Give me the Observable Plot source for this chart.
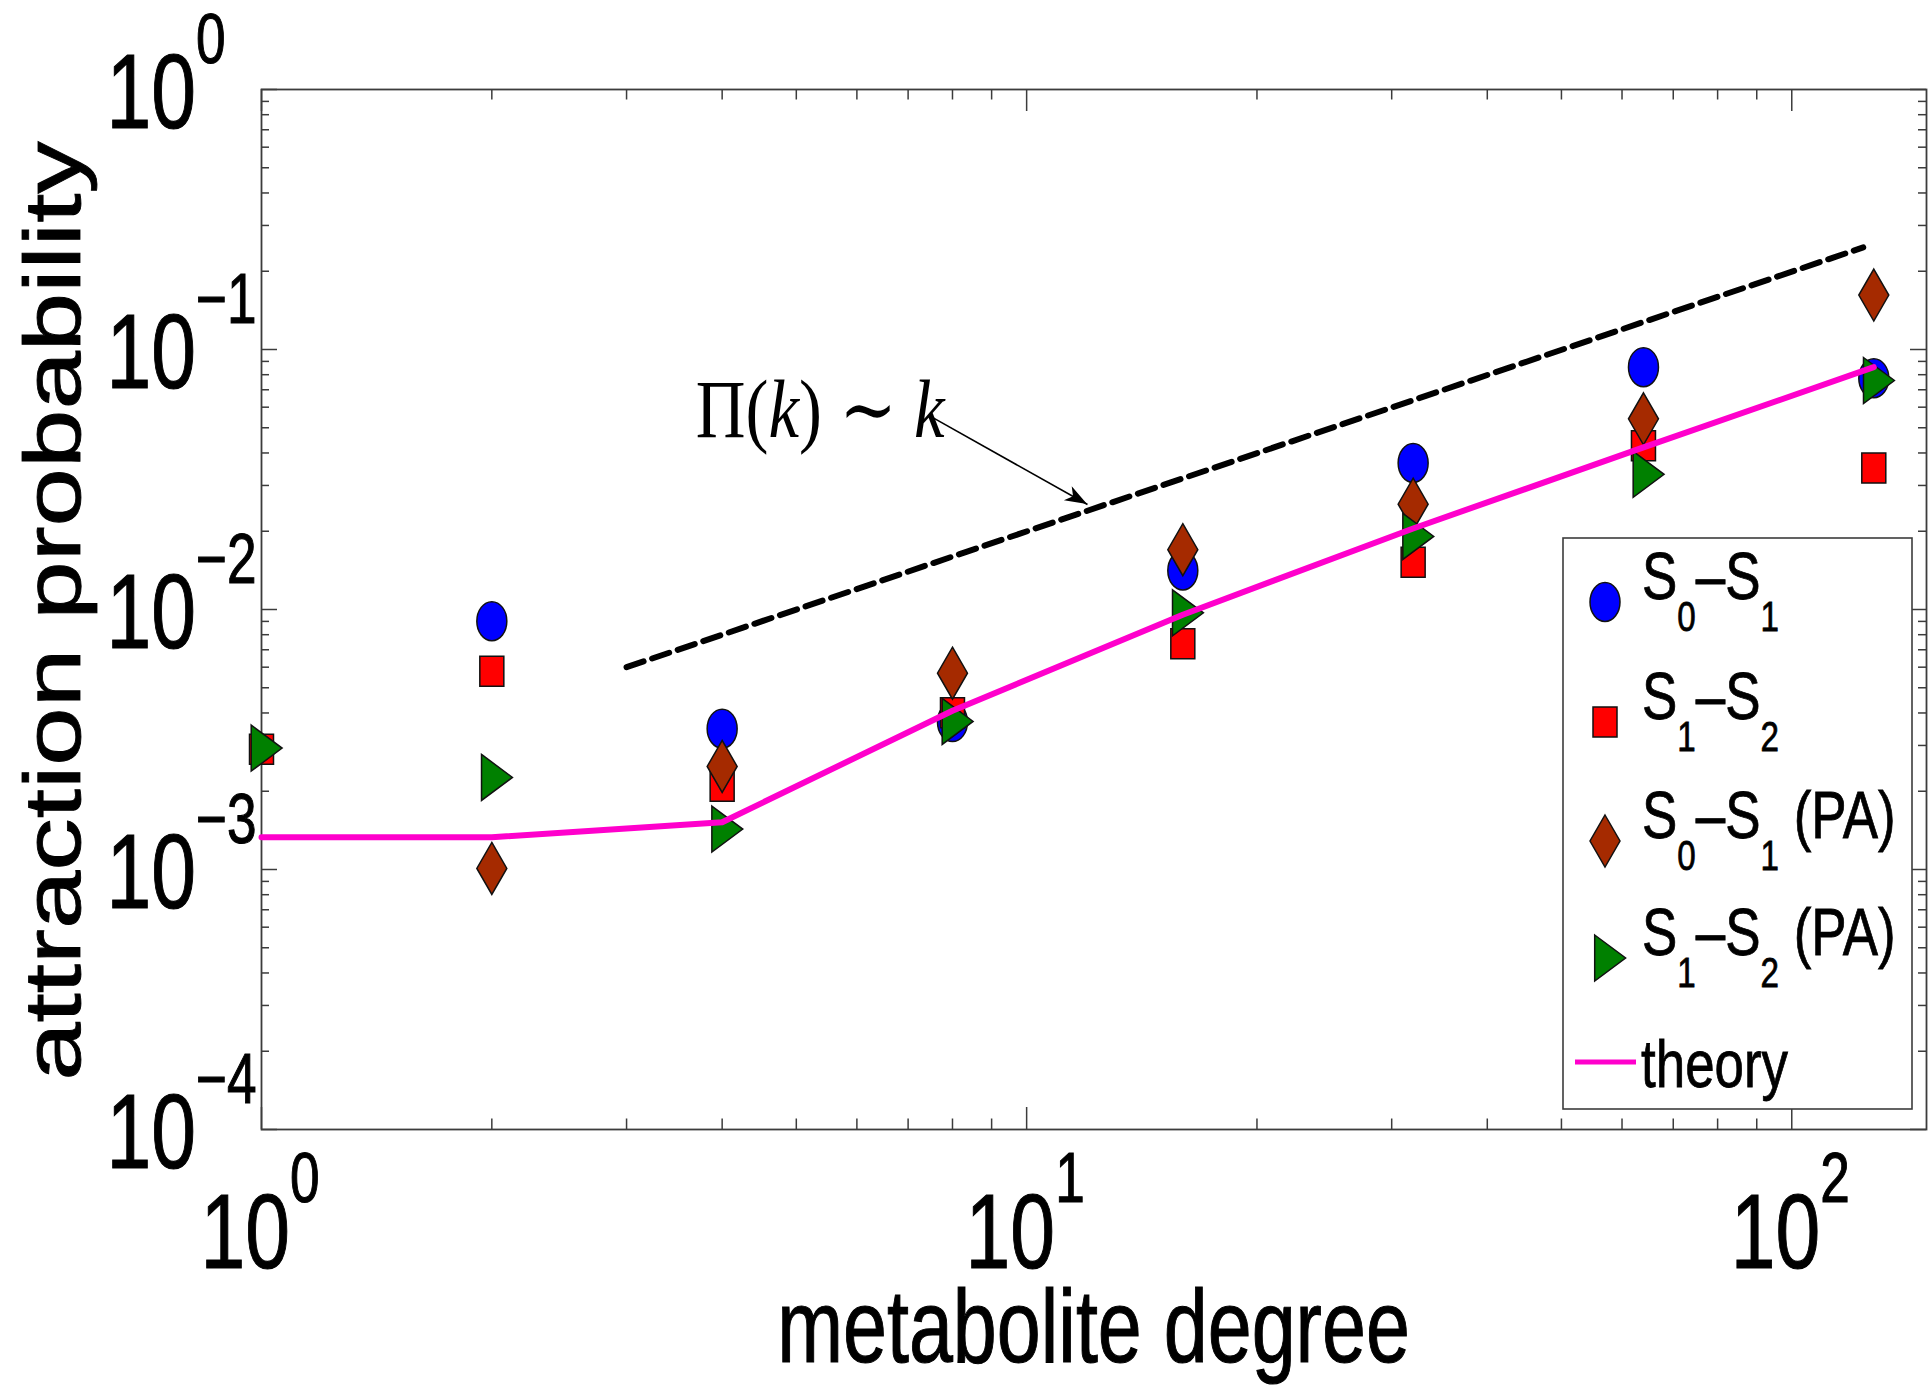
<!DOCTYPE html>
<html>
<head>
<meta charset="utf-8">
<script src="https://cdn.jsdelivr.net/npm/d3@7"></script>
<script src="https://cdn.jsdelivr.net/npm/@observablehq/plot@0.6"></script>
<style>
  html, body { margin: 0; padding: 0; background: #fff; }
  svg { display: block; }
</style>
</head>
<body>
<div id="chart"></div>
<script>
// ---------------- data ----------------
const degree   = [1, 2, 4, 8, 16, 32, 64, 128];
const s0s1     = [null, 0.00902, 0.00348, 0.00369, 0.01413, 0.0366, 0.0855, 0.0776];
const s1s2     = [0.0029, 0.00579, 0.00209, 0.00401, 0.00738, 0.0152, 0.0426, 0.035];
const s0s1PA   = [null, 0.00101, 0.00249, 0.00569, 0.01698, 0.0254, 0.0541, 0.162];
const s1s2PA   = [0.00293, 0.00226, 0.00143, 0.00371, 0.00971, 0.0191, 0.0331, 0.076];
const theory   = [0.00133, 0.00133, 0.00152, 0.00408, 0.00955, 0.0205, 0.042, 0.0855];

// guide line  Π(k) ~ k
const guideK = [3, 124];
const guideP = [0.006, 0.247];

// annotation text anchor and arrow (data units)
const annotK = [3.7];
const annotP = [0.0459];
const arrowFromK = [7.53],  arrowFromP = [0.0548];
const arrowToK   = [12.01], arrowToP   = [0.02535];

// axes
const xDomain = [1, 150];
const yDomain = [1e-4, 1];
const xTickValues = [1, 10, 100];
const xTickExp    = ["0", "1", "2"];
const yTickValues = [1e-4, 1e-3, 1e-2, 1e-1, 1];
const yTickExp    = ["\u22124", "\u22123", "\u22122", "\u22121", "0"];
const xMinorBase  = [1, 10];
const yMinorBase  = [1e-4, 1e-3, 1e-2, 1e-1];
const mantissas   = [2, 3, 4, 5, 6, 7, 8, 9];

const xLabel = "metabolite degree";
const yLabel = "attraction probability";
const seriesNames = ["S0–S1", "S1–S2", "S0–S1 (PA)", "S1–S2 (PA)", "theory"];

// ---------------- layout ----------------
const W = 1928, H = 1385;
const mL = 261, mR = 2, mT = 89, mB = 256;
const innerW = W - mL - mR, innerH = H - mT - mB;
const axisColor = "#3c3c3c";
const FONT = "'Liberation Sans', Arial, Helvetica, sans-serif";
const SX = 0.76;   // horizontal condensation of text in the reference
const SXL = 0.79;  // legend text condensation

// ---------------- custom marker symbols ----------------
const K = 0.5523;
const ellipseSym = {draw(c) {
  const rx = 15, ry = 19.5;
  c.moveTo(rx, 0);
  c.bezierCurveTo(rx, ry * K, rx * K, ry, 0, ry);
  c.bezierCurveTo(-rx * K, ry, -rx, ry * K, -rx, 0);
  c.bezierCurveTo(-rx, -ry * K, -rx * K, -ry, 0, -ry);
  c.bezierCurveTo(rx * K, -ry, rx, -ry * K, rx, 0);
  c.closePath();
}};
const squareSym = {draw(c) {
  c.moveTo(-12, -15); c.lineTo(12, -15); c.lineTo(12, 15); c.lineTo(-12, 15); c.closePath();
}};
const diamondSym = {draw(c) {
  c.moveTo(0, -26); c.lineTo(15, 0); c.lineTo(0, 26); c.lineTo(-15, 0); c.closePath();
}};
const triangleSym = {draw(c) {
  c.moveTo(-10.3, -23); c.lineTo(20.6, 0); c.lineTo(-10.3, 23); c.closePath();
}};

const series = [
  {name: seriesNames[0], values: s0s1,   sym: ellipseSym,  fill: "#0000ff"},
  {name: seriesNames[1], values: s1s2,   sym: squareSym,   fill: "#ff0000"},
  {name: seriesNames[2], values: s0s1PA, sym: diamondSym,  fill: "#a52a00"},
  {name: seriesNames[3], values: s1s2PA, sym: triangleSym, fill: "#008000"}
];
const theoryColor = "#ff00cc";

const rows = s => degree.map((k, i) => ({k, v: s.values[i]})).filter(d => d.v != null);
const theoryRows = degree.map((k, i) => ({k, v: theory[i]}));
const guideRows = guideK.map((k, i) => ({k, v: guideP[i]}));
const arrowRows = [{x1: arrowFromK[0], y1: arrowFromP[0], x2: arrowToK[0], y2: arrowToP[0]}];

const xMinor = xMinorBase.flatMap(b => mantissas.map(m => m * b));
const yMinor = yMinorBase.flatMap(b => mantissas.map(m => m * b));

const plot = Plot.plot({
  width: W, height: H,
  marginLeft: mL, marginRight: mR, marginTop: mT, marginBottom: mB,
  style: {background: "white", overflow: "visible"},
  x: {type: "log", domain: xDomain, axis: null},
  y: {type: "log", domain: yDomain, axis: null},
  marks: [
    // ticks (inward, all four sides)
    Plot.tickX(xTickValues, {x: d => d, insetTop: innerH - 22, stroke: axisColor, strokeWidth: 1.5}),
    Plot.tickX(xTickValues, {x: d => d, insetBottom: innerH - 22, stroke: axisColor, strokeWidth: 1.5}),
    Plot.tickX(xMinor, {x: d => d, insetTop: innerH - 10.5, stroke: axisColor, strokeWidth: 1.5}),
    Plot.tickX(xMinor, {x: d => d, insetBottom: innerH - 10.5, stroke: axisColor, strokeWidth: 1.5}),
    Plot.tickY(yTickValues, {y: d => d, insetRight: innerW - 16, stroke: axisColor, strokeWidth: 1.5}),
    Plot.tickY(yTickValues, {y: d => d, insetLeft: innerW - 16, stroke: axisColor, strokeWidth: 1.5}),
    Plot.tickY(yMinor, {y: d => d, insetRight: innerW - 8, stroke: axisColor, strokeWidth: 1.5}),
    Plot.tickY(yMinor, {y: d => d, insetLeft: innerW - 8, stroke: axisColor, strokeWidth: 1.5}),
    Plot.frame({stroke: axisColor, strokeWidth: 1.8}),
    // guide
    Plot.line(guideRows, {x: "k", y: "v", stroke: "black", strokeWidth: 6, strokeDasharray: "18,9"}),
    // annotation arrow shaft
    Plot.link(arrowRows, {x1: "x1", y1: "y1", x2: "x2", y2: "y2", stroke: "black", strokeWidth: 1.6}),
    // markers
    ...series.map(s => Plot.dot(rows(s), {x: "k", y: "v", symbol: s.sym, r: 15, fill: s.fill, stroke: "#111", strokeWidth: 1.5})),
    // theory
    Plot.line(theoryRows, {x: "k", y: "v", stroke: theoryColor, strokeWidth: 6})
  ]
});

document.getElementById("chart").appendChild(plot);

// ---------------- text and legend ----------------
const svg = d3.select(plot);
const xs = plot.scale("x"), ys = plot.scale("y");
const gT = svg.append("g").attr("font-family", FONT).attr("fill", "black")
  .attr("stroke", "black").attr("stroke-width", 1.1).attr("text-anchor", "start");

function ctext(g, x, y, str, size, anchor, sx = SX) {
  return g.append("text")
    .attr("transform", `translate(${x},${y}) scale(${sx},1)`)
    .attr("font-size", size).attr("text-anchor", anchor)
    .style("white-space", "pre").text(str);
}

// y tick labels
yTickValues.forEach((v, i) => {
  const py = ys.apply(v);
  ctext(gT, mL - 65, py + 39, "10", 106, "end");
  ctext(gT, mL - 65, py - 26, yTickExp[i], 70, "start");
});
// x tick labels
xTickValues.forEach((v, i) => {
  const px = xs.apply(v);
  ctext(gT, px + 29, mT + innerH + 139, "10", 106, "end");
  ctext(gT, px + 29, mT + innerH + 73, xTickExp[i], 70, "start");
});
// axis labels
ctext(gT, mL + innerW / 2, 1362, xLabel, 104, "middle");
gT.append("text")
  .attr("transform", `translate(80,${mT + innerH / 2 + 2}) rotate(-90) scale(1,${SX})`)
  .attr("font-size", 105).attr("text-anchor", "middle").text(yLabel);

// annotation Π(k) ~ k
{
  const ax = xs.apply(annotK[0]), ay = ys.apply(annotP[0]);
  const t = svg.append("text")
    .attr("transform", `translate(${ax},${ay}) scale(0.84,1)`)
    .attr("font-family", "'Liberation Serif', 'DejaVu Serif', serif")
    .attr("text-anchor", "start")
    .attr("font-size", 82).attr("fill", "black").style("white-space", "pre");
  t.append("tspan").text("\u03A0(");
  t.append("tspan").attr("font-style", "italic").text("k");
  t.append("tspan").text(") \u223C ");
  t.append("tspan").attr("font-style", "italic").text("k");
}
// arrow head
{
  const x1 = xs.apply(arrowFromK[0]), y1 = ys.apply(arrowFromP[0]);
  const x2 = xs.apply(arrowToK[0]), y2 = ys.apply(arrowToP[0]);
  const len = Math.hypot(x2 - x1, y2 - y1);
  const ux = (x2 - x1) / len, uy = (y2 - y1) / len, nx = -uy, ny = ux;
  const L = 22, Wd = 8, N = 6;
  const pts = [
    [x2, y2],
    [x2 - L * ux + Wd * nx, y2 - L * uy + Wd * ny],
    [x2 - (L - N) * ux, y2 - (L - N) * uy],
    [x2 - L * ux - Wd * nx, y2 - L * uy - Wd * ny]
  ];
  svg.append("path").attr("d", "M" + pts.map(p => p.join(",")).join("L") + "Z").attr("fill", "black");
}

// legend
{
  const gL = svg.append("g").attr("font-family", FONT).attr("text-anchor", "start");
  gL.append("rect").attr("x", 1563).attr("y", 538).attr("width", 349).attr("height", 571)
    .attr("fill", "white").attr("stroke", axisColor).attr("stroke-width", 1.6);
  const ysL = [602, 722, 841, 958];
  const parts = [
    ["S", ["0"], "–S", ["1"], ""],
    ["S", ["1"], "–S", ["2"], ""],
    ["S", ["0"], "–S", ["1"], " (PA)"],
    ["S", ["1"], "–S", ["2"], " (PA)"]
  ];
  const gLT = gL.append("g").attr("fill", "black").attr("stroke", "black").attr("stroke-width", 0.8);
  series.forEach((s, i) => {
    gL.append("path").attr("d", d3.symbol(s.sym)())
      .attr("transform", `translate(1605,${ysL[i]})`)
      .attr("fill", s.fill).attr("stroke", "#111").attr("stroke-width", 1.5);
    const t = gLT.append("text")
      .attr("transform", `translate(1642,${ysL[i] - 3}) scale(${SXL},1)`)
      .attr("text-anchor", "start")
      .attr("font-size", 67).style("white-space", "pre");
    let sub = false;
    parts[i].forEach(p => {
      if (Array.isArray(p)) {
        t.append("tspan").attr("font-size", 42).attr("dy", sub ? 0 : 32).text(p[0]);
        sub = true;
      } else if (p.length) {
        t.append("tspan").attr("dy", sub ? -32 : 0).text(p);
        sub = false;
      }
    });
  });
  gL.append("line").attr("x1", 1575).attr("x2", 1636).attr("y1", 1062).attr("y2", 1062)
    .attr("stroke", theoryColor).attr("stroke-width", 5);
  ctext(gLT, 1641, 1087, seriesNames[4], 67, "start", SXL);
}
</script>
</body>
</html>
